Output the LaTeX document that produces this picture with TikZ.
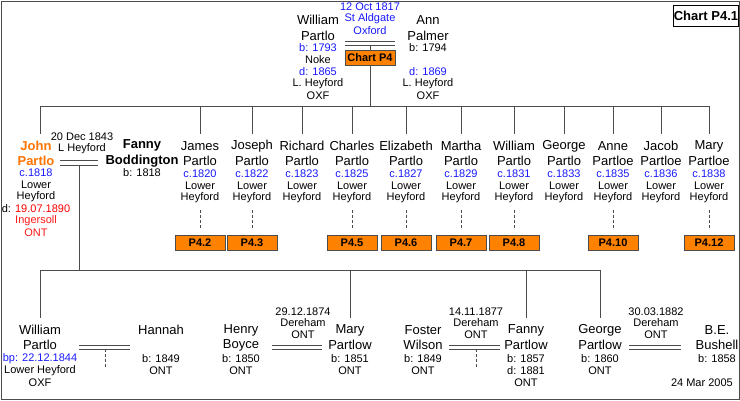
\documentclass[tikz,border=0pt]{standalone}
\usepackage{fontspec}
\setmainfont{Liberation Sans}
\begin{document}
\begin{tikzpicture}[x=1pt,y=-1pt,
  nm/.style={font=\fontsize{13}{15}\selectfont,inner sep=0pt,align=center},
  sm/.style={font=\fontsize{11}{12}\selectfont,inner sep=0pt,align=center},
  bl/.style={text=blue!90!white},
  rd/.style={text=red!90!white},
  ln/.style={draw=black!70,line width=0.8pt},
  dsh/.style={draw=black!70,line width=0.6pt,dash pattern=on 3pt off 2pt},
  ref/.style={draw=black!70,fill=orange!90!red!90!yellow,font=\bfseries\fontsize{11}{12}\selectfont,minimum width=50pt,minimum height=15pt,inner sep=0pt}]
\path[use as bounding box] (0,0) rectangle (740,400);
\draw[black!70,line width=1pt] (1,1) rectangle (739,399);
\node[draw=black,line width=0.8pt,font=\bfseries\fontsize{13}{14}\selectfont,minimum width=62pt,minimum height=21pt,inner sep=0pt] (chart) at (706,16) {Chart P4.1};
% parents
\node[nm] (wp1) at (318,20) {William};
\node[nm] (wp2) at (318,36) {Partlo};
\node[sm,bl] at (318,48) {b: 1793};
\node[sm] at (318,60) {Noke};
\node[sm,bl] at (318,72) {d: 1865};
\node[sm] at (318,84) {L. Heyford};
\node[sm] at (318,96) {OXF};
\node[nm] (ap1) at (428,20) {Ann};
\node[nm] (ap2) at (428,36) {Palmer};
\node[sm] at (428,48) {b: 1794};
\node[sm,bl] at (428,72) {d: 1869};
\node[sm] at (428,84) {L. Heyford};
\node[sm] at (428,96) {OXF};
\node[sm,bl] at (370,7) {12 Oct 1817};
\node[sm,bl] at (370,19) {St Aldgate};
\node[sm,bl] at (370,31) {Oxford};
\draw[ln] (345,41) -- (395,41) (345,45) -- (395,45);
\coordinate (m0) at (370,45);
\coordinate (sib) at (370,106);
\draw[ln] (m0) -- (sib);
\node[ref] (c4) at (370,58) {Chart P4};
\draw[ln] (40,106) -- (709,106);
% children
\foreach \x/\a/\b/\c in {200/James/Partlo/1820,252/Joseph/Partlo/1822,302/Richard/Partlo/1823,352/Charles/Partlo/1825,406/Elizabeth/Partlo/1827,461/Martha/Partlo/1829,514/William/Partlo/1831,564/George/Partlo/1833,613/Anne/Partloe/1835,661/Jacob/Partloe/1836,709/Mary/Partloe/1838}{
  \coordinate (t\x) at (\x,106);
  \node[nm] (n\x) at (\x,146) {\a};
  \draw[ln] (t\x) -- (\x,134);
  \node[nm] at (\x,161) {\b};
  \node[sm,bl] at (\x,174) {c.\c};
  \node[sm] at (\x,186) {Lower};
  \node[sm] at (\x,198) {Heyford};
}
\foreach \x/\l in {200/P4.2,252/P4.3,352/P4.5,406/P4.6,461/P4.7,514/P4.8,613/P4.10,709/P4.12}{
  \node[ref] (r\x) at (\x,243) {\l};
  \draw[dsh] (\x,210) -- (\x,228);
}
% John
\draw[ln] (40,106) -- (40,134);
\node[nm,text=orange!90!red,font=\bfseries\fontsize{13}{15}\selectfont] (jp) at (36,146) {John};
\node[nm,text=orange!90!red,font=\bfseries\fontsize{13}{15}\selectfont] at (36,161) {Partlo};
\node[sm,bl] at (36,173) {c.1818};
\node[sm] at (36,185) {Lower};
\node[sm] at (36,197) {Heyford};
\node[sm] at (36,209) {d: \textcolor{red}{19.07.1890}};
\node[sm,rd] at (36,221) {Ingersoll};
\node[sm,rd] at (36,233) {ONT};
\node[sm] at (82,137) {20 Dec 1843};
\node[sm] at (82,149) {L Heyford};
\draw[ln] (60,160) -- (98,160) (60,165) -- (98,165);
\node[nm,font=\bfseries\fontsize{13}{15}\selectfont] (fb) at (142,145) {Fanny};
\node[nm,font=\bfseries\fontsize{13}{15}\selectfont] at (142,161) {Boddington};
\node[sm] at (142,173) {b: 1818};
\coordinate (m1) at (79,165);
\coordinate (g2) at (79,270);
\draw[ln] (m1) -- (g2);
\draw[ln] (40,270) -- (600,270);
\draw[ln] (40,270) -- (40,318) (350,270) -- (350,318) (526,270) -- (526,318) (600,270) -- (600,318);
% gen 2
\node[nm] (wp) at (40,330) {William}; \node[nm] at (40,345) {Partlo};
\node[sm,bl] at (40,359) {bp: 22.12.1844};
\node[sm] at (40,371) {Lower Heyford}; \node[sm] at (40,383) {OXF};
\draw[ln] (79,345) -- (130,345) (79,349) -- (130,349);
\draw[dsh] (105,349) -- (105,368);
\node[nm] (hn) at (161,330) {Hannah};
\node[sm] at (161,359) {b: 1849}; \node[sm] at (161,371) {ONT};
\node[nm] (hb) at (241,330) {Henry}; \node[nm] at (241,345) {Boyce};
\node[sm] at (241,359) {b: 1850}; \node[sm] at (241,371) {ONT};
\node[sm] at (303,312) {29.12.1874}; \node[sm] at (303,323) {Dereham}; \node[sm] at (303,335) {ONT};
\draw[ln] (272,345) -- (322,345) (272,349) -- (322,349);
\node[nm] (mp) at (350,330) {Mary}; \node[nm] at (350,345) {Partlow};
\node[sm] at (350,359) {b: 1851}; \node[sm] at (350,371) {ONT};
\node[nm] (fw) at (423,330) {Foster}; \node[nm] at (423,345) {Wilson};
\node[sm] at (423,359) {b: 1849}; \node[sm] at (423,371) {ONT};
\node[sm] at (476,312) {14.11.1877}; \node[sm] at (476,323) {Dereham}; \node[sm] at (476,335) {ONT};
\draw[ln] (449,345) -- (500,345) (449,349) -- (500,349);
\draw[dsh] (476,349) -- (476,368);
\node[nm] (fp) at (526,330) {Fanny}; \node[nm] at (526,345) {Partlow};
\node[sm] at (526,359) {b: 1857}; \node[sm] at (526,371) {d: 1881}; \node[sm] at (526,383) {ONT};
\node[nm] (gp) at (600,330) {George}; \node[nm] at (600,345) {Partlow};
\node[sm] at (600,359) {b: 1860}; \node[sm] at (600,371) {ONT};
\node[sm] at (656,312) {30.03.1882}; \node[sm] at (656,323) {Dereham}; \node[sm] at (656,335) {ONT};
\draw[ln] (629,345) -- (681,345) (629,349) -- (681,349);
\node[nm] (bb) at (717,330) {B.E.}; \node[nm] at (717,345) {Bushell};
\node[sm] at (717,359) {b: 1858};
\node[sm,anchor=east] (dt) at (733,383) {24 Mar 2005};
\end{tikzpicture}
\end{document}
